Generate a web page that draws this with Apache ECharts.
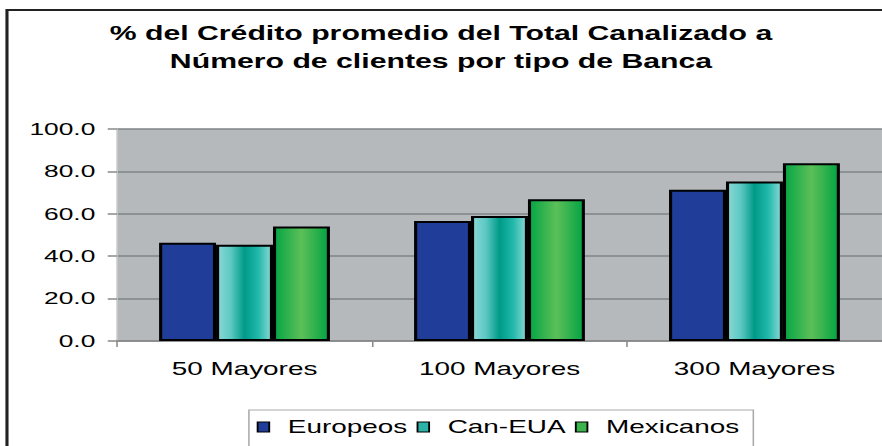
<!DOCTYPE html>
<html>
<head>
<meta charset="utf-8">
<script src="https://cdn.jsdelivr.net/npm/echarts@6/dist/echarts.min.js"></script>
<style>
  html, body { margin: 0; padding: 0; background: #fff; overflow: hidden; }
  /* the reference is stretched sideways, so draw narrow and widen it */
  #container { width: 569px; height: 446px; transform: scaleX(1.55); transform-origin: 0 0; }
</style>
</head>
<body>
<div id="container"></div>
<script>
var categories = ['50 Mayores', '100 Mayores', '300 Mayores'];
var seriesNames = ['Europeos', 'Can-EUA', 'Mexicanos'];
var europeos = [46.4, 56.6, 71.3];
var canEua = [45.4, 59.0, 75.2];
var mexicanos = [54.0, 66.9, 83.9];
var yTicks = [0, 20, 40, 60, 80, 100];

var dom = document.getElementById('container');
var myChart = echarts.init(dom, null, { renderer: 'svg' });
var font = 'Liberation Sans, Arial, sans-serif';

function hGrad(stops) {
    return new echarts.graphic.LinearGradient(0, 0, 1, 0, stops);
}

var colors = [
    '#1f3d99',
    hGrad([
        { offset: 0, color: '#8ad8d6' },
        { offset: 0.25, color: '#5cc8c2' },
        { offset: 0.5, color: '#009a88' },
        { offset: 0.75, color: '#20b8aa' },
        { offset: 1, color: '#8ad8d6' }
    ]),
    hGrad([
        { offset: 0, color: '#05a545' },
        { offset: 0.5, color: '#5cbf58' },
        { offset: 1, color: '#03a443' }
    ])
];
var legendColors = ['#1f3d99', '#2ab3a6', '#3cb44e'];

var option = {
    animation: false,
    backgroundColor: '#fff',
    title: {
        text: '% del Crédito promedio del Total Canalizado a\nNúmero de clientes por tipo de Banca',
        left: 'center',
        top: 14,
        textStyle: {
            fontFamily: font,
            fontSize: 19.5,
            fontWeight: 'bold',
            color: '#000',
            lineHeight: 28
        }
    },
    legend: {
        data: seriesNames.map(function (n, i) {
            return { name: n, itemStyle: { color: legendColors[i] } };
        }),
        left: 160.6,
        top: 410,
        padding: [8, 9, 20, 5],
        itemGap: 6,
        itemWidth: 7.5,
        itemHeight: 10,
        borderColor: '#aaa',
        borderWidth: 1,
        borderRadius: 0,
        icon: 'rect',
        itemStyle: { borderColor: '#000', borderWidth: 1.2 },
        textStyle: { fontFamily: font, fontSize: 18, color: '#000', padding: [0, 0, 0, 7] }
    },
    graphic: [{
        type: 'rect',
        z: -10,
        shape: { x: 4.5, y: 10, width: 1000, height: 1000 },
        style: { fill: 'none', stroke: '#222', lineWidth: 2 }
    }],
    grid: {
        left: 75.5,
        top: 129,
        width: 500,
        bottom: 105,
        show: true,
        backgroundColor: '#b5b9bc',
        borderWidth: 0
    },
    xAxis: {
        type: 'category',
        data: categories,
        axisLine: { lineStyle: { color: '#8a8a8a', width: 1.5 } },
        axisTick: { show: true, length: 6, lineStyle: { color: '#8a8a8a' } },
        axisLabel: { fontFamily: font, fontSize: 18, color: '#000', margin: 19 }
    },
    yAxis: {
        type: 'value',
        min: yTicks[0],
        max: yTicks[yTicks.length - 1],
        interval: 20,
        axisLine: { show: true, lineStyle: { color: '#c8cccd', width: 1 } },
        axisTick: { show: true, length: 6, lineStyle: { color: '#8a8a8a', width: 1.5 } },
        splitLine: { lineStyle: { color: '#7f8486', width: 1.5 } },
        axisLabel: {
            fontFamily: font,
            fontSize: 17,
            color: '#000',
            margin: 14,
            formatter: function (v) { return v.toFixed(1); }
        }
    },
    series: [europeos, canEua, mexicanos].map(function (d, i) {
        return {
            name: seriesNames[i],
            type: 'bar',
            data: d,
            barGap: '0%',
            barCategoryGap: '33%',
            itemStyle: { color: colors[i], borderColor: '#000', borderWidth: 2 }
        };
    })
};

if (option && typeof option === 'object') {
    myChart.setOption(option, true);
}
</script>
</body>
</html>
